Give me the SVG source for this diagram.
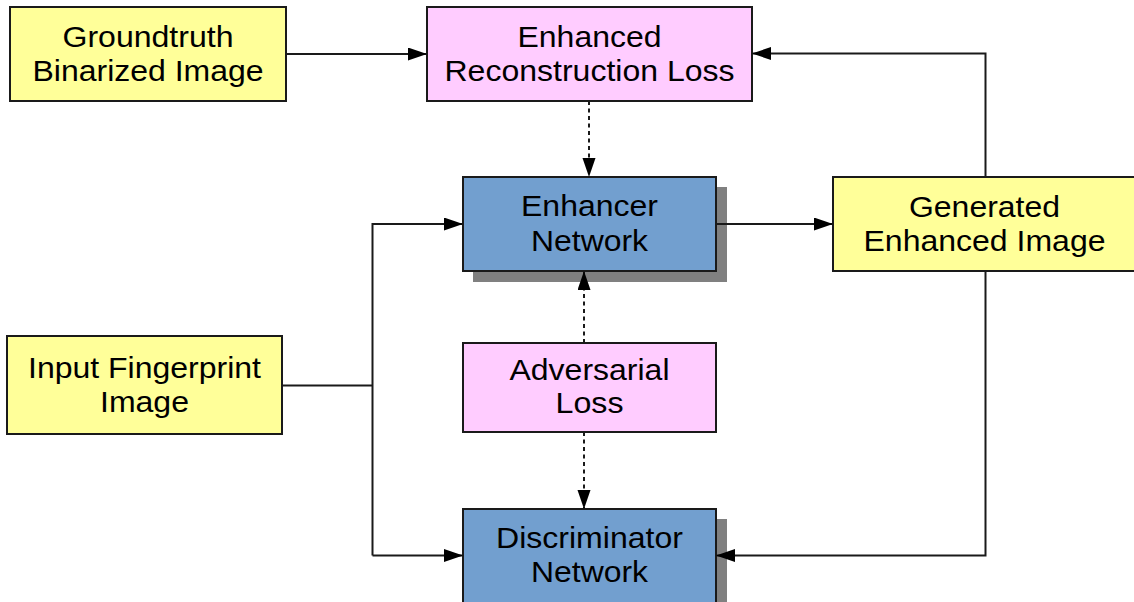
<svg xmlns="http://www.w3.org/2000/svg" width="1134" height="602" viewBox="0 0 1134 602">
<defs>
<style>
.box{stroke:#1a1a1a;stroke-width:2}
.yel{fill:#ffff99}
.pink{fill:#ffccff}
.blue{fill:#729fcf}
.shadow{fill:#808080}
.lbl{font-family:"Liberation Sans",Arial,sans-serif;font-size:29px;fill:#000;text-anchor:middle}
.con{fill:none;stroke:#1a1a1a;stroke-width:2}
.dot{stroke-dasharray:4 3.5}
</style>
<marker id="arr" markerWidth="20" markerHeight="14" refX="19" refY="6.5" orient="auto" markerUnits="userSpaceOnUse">
<path d="M0,0 L19,6.5 L0,13 Z" fill="#000"/>
</marker>
</defs>
<rect width="1134" height="602" fill="#fff"/>

<g id="groundtruth">
<rect class="box yel" x="10" y="7" width="276" height="94"/>
<text class="lbl" x="148" y="47" textLength="171" lengthAdjust="spacingAndGlyphs">Groundtruth</text>
<text class="lbl" x="148" y="81" textLength="231" lengthAdjust="spacingAndGlyphs">Binarized Image</text>
</g>

<g id="recon-loss">
<rect class="box pink" x="427" y="7" width="325" height="94"/>
<text class="lbl" x="589.5" y="47" textLength="144" lengthAdjust="spacingAndGlyphs">Enhanced</text>
<text class="lbl" x="589.5" y="81" textLength="290" lengthAdjust="spacingAndGlyphs">Reconstruction Loss</text>
</g>

<g id="enhancer">
<rect class="shadow" x="473" y="187" width="254" height="95"/>
<rect class="box blue" x="463" y="177" width="253" height="94"/>
<text class="lbl" x="589.5" y="216" textLength="137" lengthAdjust="spacingAndGlyphs">Enhancer</text>
<text class="lbl" x="589.5" y="250.5" textLength="117" lengthAdjust="spacingAndGlyphs">Network</text>
</g>

<g id="generated">
<rect class="box yel" x="833" y="177" width="304" height="94"/>
<text class="lbl" x="984.5" y="216.5" textLength="151" lengthAdjust="spacingAndGlyphs">Generated</text>
<text class="lbl" x="984.5" y="250.5" textLength="242" lengthAdjust="spacingAndGlyphs">Enhanced Image</text>
</g>

<g id="input">
<rect class="box yel" x="7" y="336" width="275" height="98"/>
<text class="lbl" x="144.5" y="378" textLength="233" lengthAdjust="spacingAndGlyphs">Input Fingerprint</text>
<text class="lbl" x="144.5" y="411.5" textLength="89" lengthAdjust="spacingAndGlyphs">Image</text>
</g>

<g id="adversarial">
<rect class="box pink" x="463" y="343" width="253" height="89"/>
<text class="lbl" x="589.5" y="380" textLength="160" lengthAdjust="spacingAndGlyphs">Adversarial</text>
<text class="lbl" x="589.5" y="413" textLength="68" lengthAdjust="spacingAndGlyphs">Loss</text>
</g>

<g id="discriminator">
<rect class="shadow" x="473" y="519" width="254" height="95"/>
<rect class="box blue" x="463" y="509" width="253" height="94"/>
<text class="lbl" x="589.5" y="548" textLength="187" lengthAdjust="spacingAndGlyphs">Discriminator</text>
<text class="lbl" x="589.5" y="582" textLength="117" lengthAdjust="spacingAndGlyphs">Network</text>
</g>

<g id="connectors">
<path class="con" d="M286,54 H427" marker-end="url(#arr)"/>
<path class="con" d="M985.5,177 V53.5 H752" marker-end="url(#arr)"/>
<path class="con dot" d="M589,101 V177" marker-end="url(#arr)"/>
<path class="con" d="M716,224 H833" marker-end="url(#arr)"/>
<path class="con" d="M282,385.5 H372.5"/>
<path class="con" d="M372.5,555.5 V224 H463" marker-end="url(#arr)"/>
<path class="con" d="M372.5,555.5 H463" marker-end="url(#arr)"/>
<path class="con dot" d="M584,343 V271" marker-end="url(#arr)"/>
<path class="con dot" d="M584,432 V509" marker-end="url(#arr)"/>
<path class="con" d="M985.5,271 V555.5 H716" marker-end="url(#arr)"/>
</g>
</svg>
